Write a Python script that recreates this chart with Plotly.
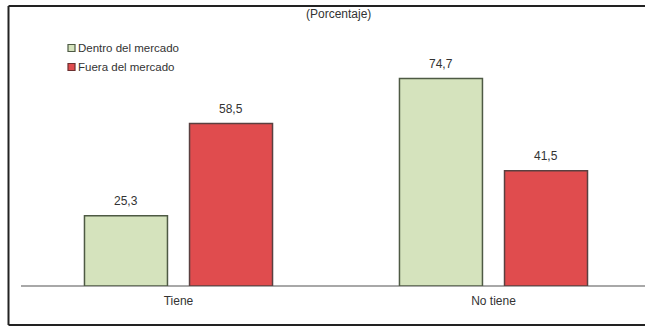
import plotly.graph_objects as go

categories = ["Tiene", "No tiene"]
series_names = ["Dentro del mercado", "Fuera del mercado"]
dentro = [25.3, 74.7]
fuera = [58.5, 41.5]
subtitle = "(Porcentaje)"

FONT = "Liberation Sans Narrow, Arial Narrow, Liberation Sans, Arial, sans-serif"
TEXT_COLOR = "#333333"
FILLS = ["#d5e3bd", "#e04c4e"]
OUTLINES = ["#4e5a44", "#5a4040"]

# plot-area geometry in pixels (used to place the legend / frame in paper units)
L, R, T, B, W, H = 21, 0, 36, 41, 645, 327
PW, PH = W - L - R, H - T - B


def px_x(px):
    return (px - L) / PW


def px_y(py):
    return (H - B - py) / PH


fig = go.Figure()
for name, vals, fill, edge in zip(series_names, [dentro, fuera], FILLS, OUTLINES):
    fig.add_trace(go.Bar(
        name=name, x=categories, y=vals, showlegend=False,
        marker=dict(color=fill, line=dict(color=edge, width=1.5)),
    ))

# value labels above each bar, in Spanish decimal format
offsets = [-0.1667, 0.1667]
for vals, off in zip([dentro, fuera], offsets):
    for i, v in enumerate(vals):
        fig.add_annotation(
            x=i + off, y=v, xref="x", yref="y",
            text=f"{v:.1f}".replace(".", ","),
            showarrow=False, yanchor="middle", yshift=15,
            font=dict(family=FONT, size=12, color=TEXT_COLOR),
        )

# subtitle
fig.add_annotation(
    x=px_x(338), y=px_y(14), xref="paper", yref="paper",
    xanchor="center", yanchor="middle",
    text=subtitle, showarrow=False,
    font=dict(family=FONT, size=12, color=TEXT_COLOR),
)

# compact legend: small outlined squares with labels
for k, (name, fill, edge) in enumerate(zip(series_names, FILLS, OUTLINES)):
    cy = 48 + 19 * k
    fig.add_shape(
        type="rect", xref="paper", yref="paper",
        x0=px_x(68), x1=px_x(75), y0=px_y(cy + 3.5), y1=px_y(cy - 3.5),
        fillcolor=fill, line=dict(color=edge if k == 0 else "#6a3030", width=1.2),
    )
    fig.add_annotation(
        x=px_x(76), y=px_y(cy), xref="paper", yref="paper",
        xanchor="left", yanchor="middle", text=name, showarrow=False,
        font=dict(family=FONT, size=11.5, color=TEXT_COLOR),
    )

# outer frame (open on the right side)
frame_x0, frame_y0, frame_y1 = px_x(8.5), px_y(325), px_y(6)
fig.add_shape(type="line", xref="paper", yref="paper",
              x0=frame_x0, x1=frame_x0, y0=frame_y0, y1=frame_y1,
              line=dict(color="#222222", width=2))
fig.add_shape(type="line", xref="paper", yref="paper",
              x0=frame_x0, x1=1.0, y0=frame_y1, y1=frame_y1,
              line=dict(color="#222222", width=2))
fig.add_shape(type="line", xref="paper", yref="paper",
              x0=frame_x0, x1=1.0, y0=frame_y0, y1=frame_y0,
              line=dict(color="#222222", width=2))

fig.update_layout(
    width=W, height=H,
    margin=dict(l=L, r=R, t=T, b=B),
    paper_bgcolor="white", plot_bgcolor="white",
    barmode="group", bargap=0.333, bargroupgap=0.21,
    font=dict(family=FONT, size=12, color=TEXT_COLOR),
    showlegend=False,
    xaxis=dict(
        range=[-0.5, 1.481], showgrid=False, zeroline=False,
        showline=False, ticks="", ticklabelstandoff=6,
        tickfont=dict(family=FONT, size=12, color=TEXT_COLOR),
    ),
    yaxis=dict(
        range=[0, 90], showgrid=False, zeroline=True,
        zerolinecolor="#a8a8a8", zerolinewidth=2,
        showticklabels=False, showline=False, ticks="",
    ),
)

# page styling: fixed-size body with no scrollbars around the figure
PAGE_CSS = (
    "html,body{margin:0;padding:0;overflow:hidden;width:645px;height:327px;}"
    "::-webkit-scrollbar{display:none;width:0;height:0;}"
)
fig.write_html(
    "out.html",
    post_script=(
        "var s=document.createElement('style');"
        f"s.textContent='{PAGE_CSS}';"
        "document.head.appendChild(s);"
    ),
)
